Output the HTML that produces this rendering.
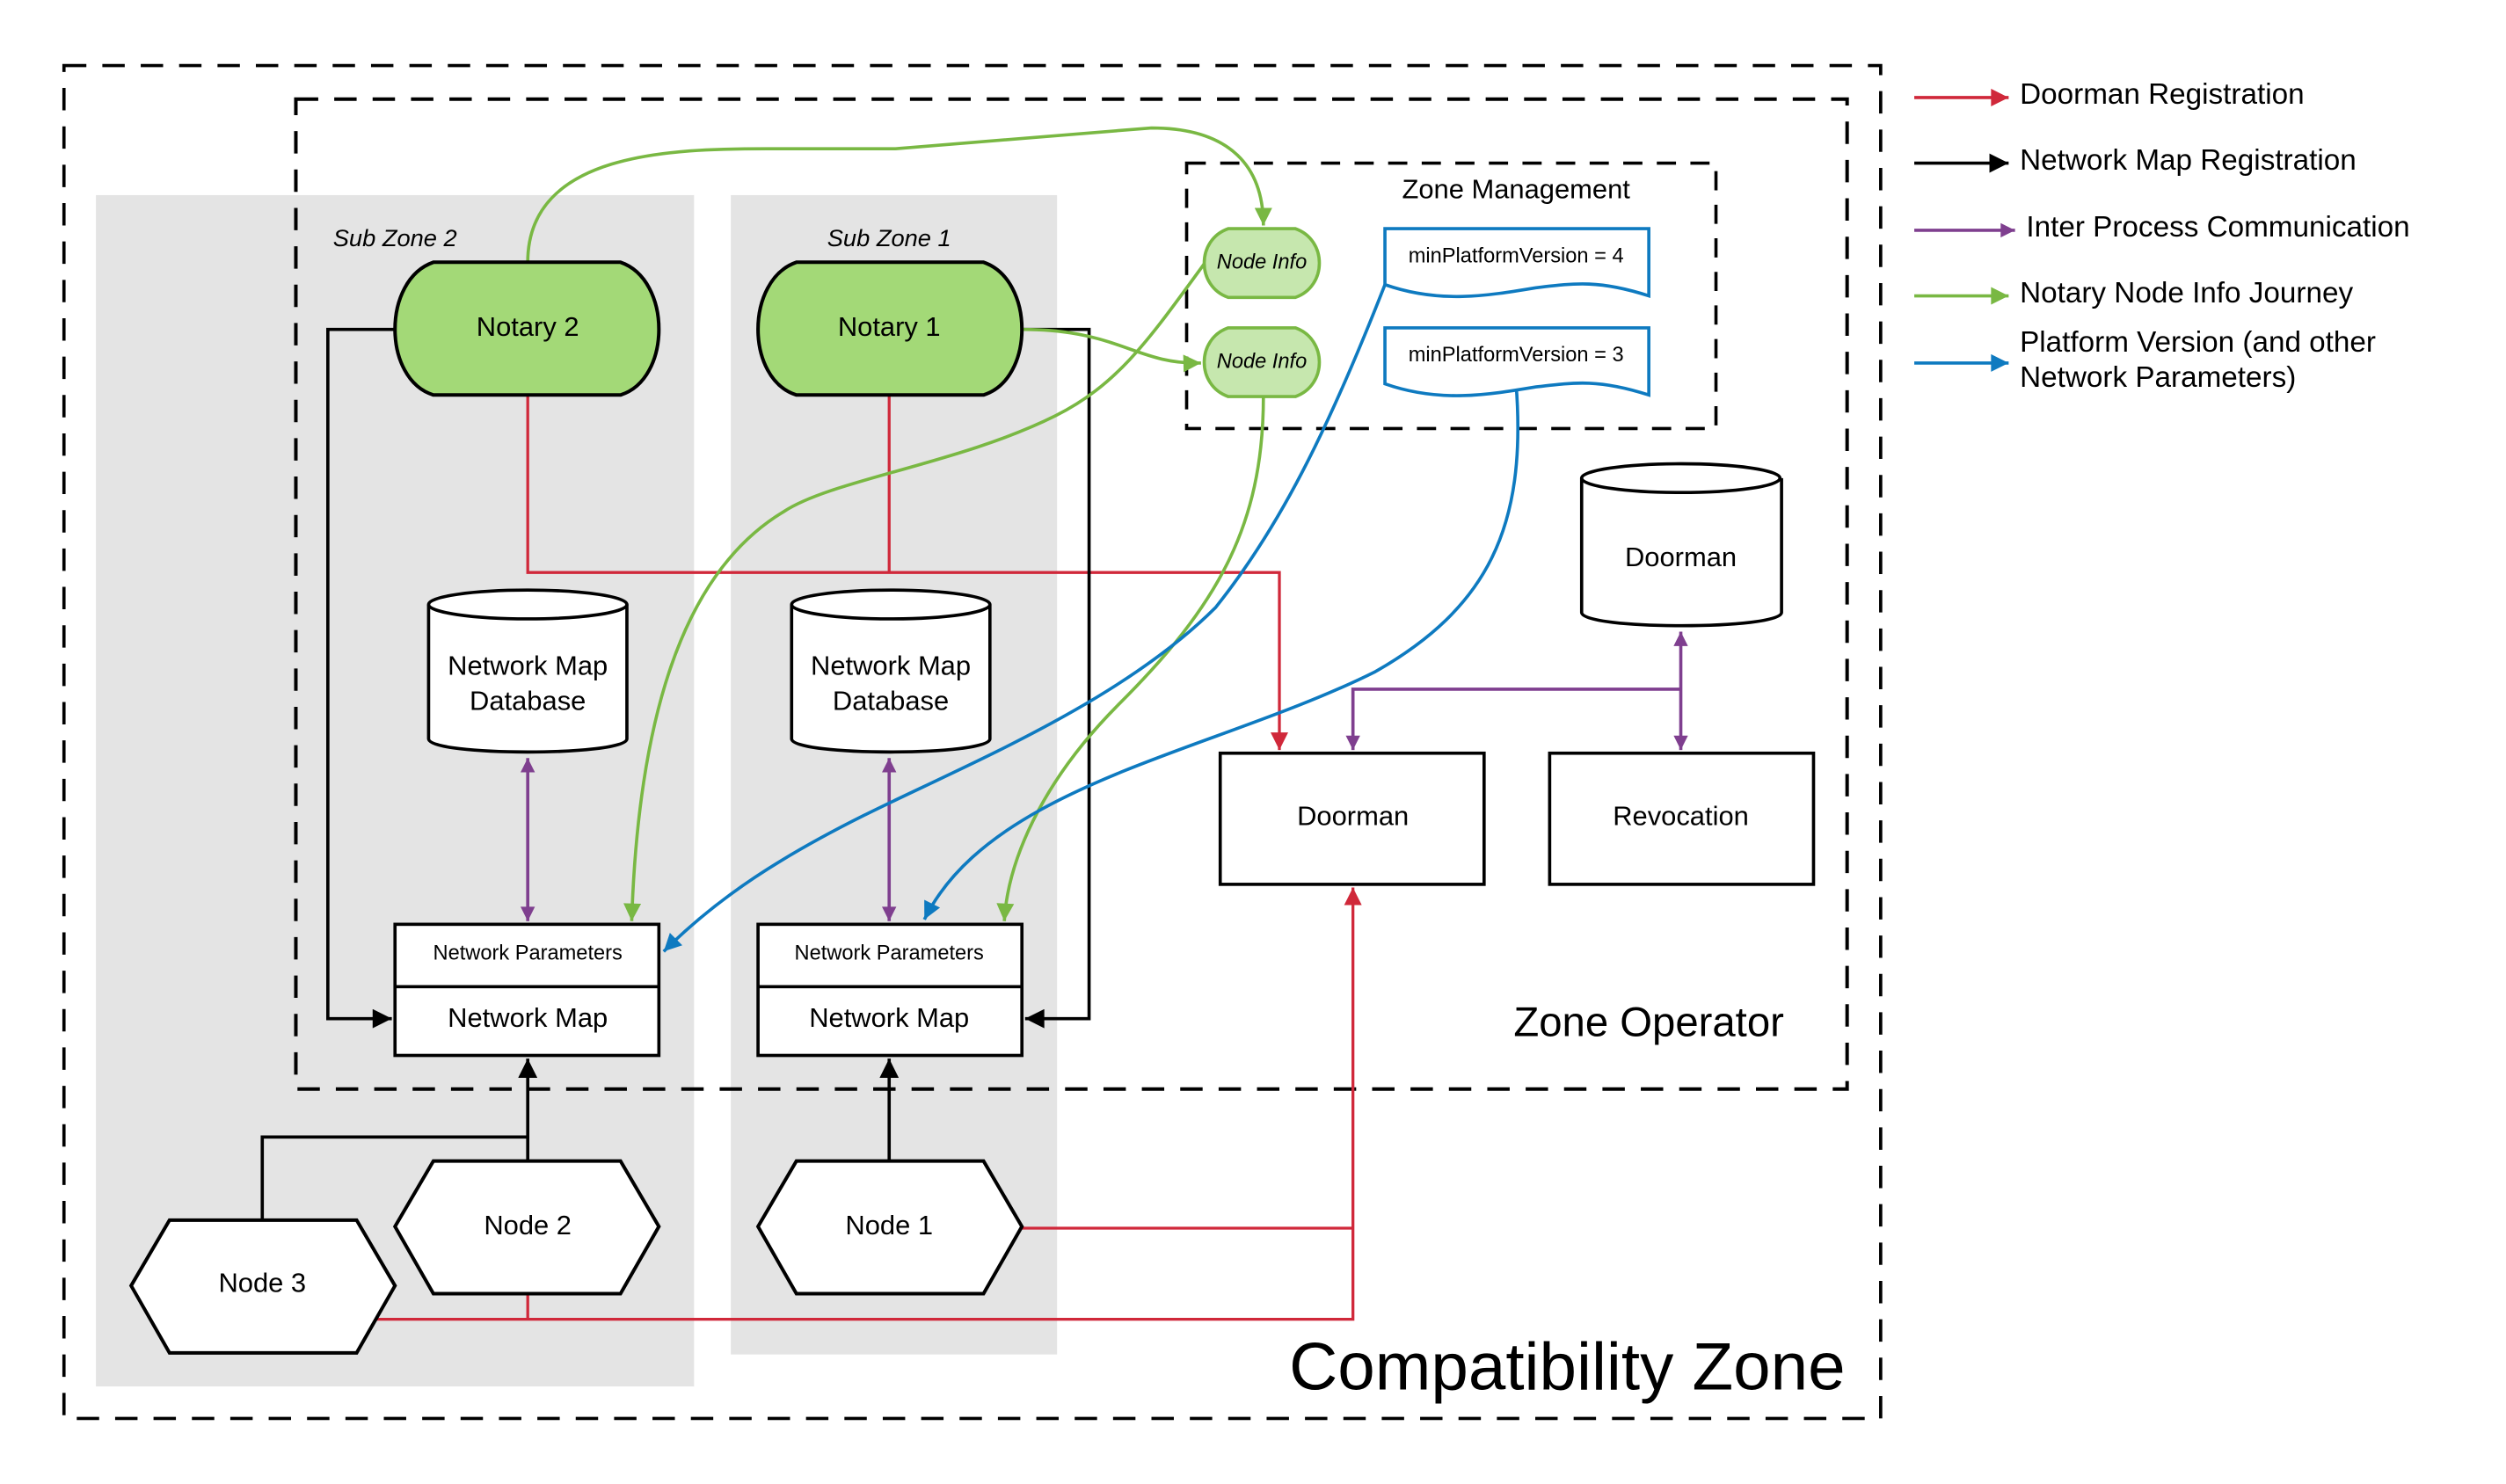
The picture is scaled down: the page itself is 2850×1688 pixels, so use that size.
<!DOCTYPE html>
<html><head><meta charset="utf-8"><style>
html,body{margin:0;padding:0;background:#fff;}
svg{display:block;font-family:"Liberation Sans",sans-serif;}
</style></head><body>
<svg width="2850" height="1688" viewBox="0 0 1567 928" preserveAspectRatio="none" xmlns="http://www.w3.org/2000/svg">
<defs>
<marker id="ar" viewBox="0 0 10 10" refX="10" refY="5" markerWidth="13" markerHeight="11" orient="auto-start-reverse" markerUnits="userSpaceOnUse"><path d="M0,0L10,5L0,10z" fill="#d0283a"/></marker>
<marker id="ak" viewBox="0 0 10 10" refX="10" refY="5" markerWidth="13" markerHeight="12" orient="auto-start-reverse" markerUnits="userSpaceOnUse"><path d="M0,0L10,5L0,10z" fill="#000"/></marker>
<marker id="ap" viewBox="0 0 10 10" refX="10" refY="5" markerWidth="13" markerHeight="9" orient="auto-start-reverse" markerUnits="userSpaceOnUse"><path d="M0,0L10,5L0,10z" fill="#7f3f8f"/></marker>
<marker id="ag" viewBox="0 0 10 10" refX="10" refY="5" markerWidth="14" markerHeight="11" orient="auto-start-reverse" markerUnits="userSpaceOnUse"><path d="M0,0L10,5L0,10z" fill="#79b843"/></marker>
<marker id="ab" viewBox="0 0 10 10" refX="10" refY="5" markerWidth="14" markerHeight="11" orient="auto-start-reverse" markerUnits="userSpaceOnUse"><path d="M0,0L10,5L0,10z" fill="#0e7ac0"/></marker>
</defs>
<rect width="1567" height="928" fill="#fff"/>
<rect x="60" y="122" width="374" height="745" fill="#e4e4e4"/>
<rect x="457" y="122" width="204" height="725" fill="#e4e4e4"/>
<rect x="40" y="41" width="1136" height="846" fill="none" stroke="#000" stroke-width="2" stroke-dasharray="14,10"/>
<rect x="185" y="62" width="970" height="619" fill="none" stroke="#000" stroke-width="2.2" stroke-dasharray="14,10"/>
<rect x="742" y="102" width="331" height="166" fill="none" stroke="#000" stroke-width="2" stroke-dasharray="12,9"/>
<g font-size="15" font-style="italic" text-anchor="middle"><text x="247" y="154">Sub Zone 2</text><text x="556" y="154">Sub Zone 1</text></g>
<text x="948" y="124" font-size="17" text-anchor="middle">Zone Management</text>
<text x="1031" y="648" font-size="26" text-anchor="middle">Zone Operator</text>
<text x="980" y="869" font-size="42" text-anchor="middle">Compatibility Zone</text>

<g fill="none" stroke="#d0283a" stroke-width="1.8">
<path d="M330,247V358H800V469" marker-end="url(#ar)"/>
<path d="M556,247V358"/>
<path d="M639,768H846"/>
<path d="M232,825H846V555" marker-end="url(#ar)"/>
<path d="M330,809V825"/>
</g>
<g fill="none" stroke="#000" stroke-width="2">
<path d="M247,206H205V637H245" marker-end="url(#ak)"/>
<path d="M639,206H681V637H641" marker-end="url(#ak)"/>
<path d="M330,726V662" marker-end="url(#ak)"/>
<path d="M556,726V662" marker-end="url(#ak)"/>
<path d="M164,763V711H330"/>
</g>
<g fill="none" stroke="#7f3f8f" stroke-width="2">
<path d="M330,474V576" marker-start="url(#ap)" marker-end="url(#ap)"/>
<path d="M556,474V576" marker-start="url(#ap)" marker-end="url(#ap)"/>
<path d="M1051,395V469" marker-start="url(#ap)" marker-end="url(#ap)"/>
<path d="M1051,431H846V469" marker-end="url(#ap)"/>
</g>
<g fill="none" stroke="#79b843" stroke-width="2">
<path d="M330,164C330,95 420,93 480,93H560L720,80C770,80 790,105 790,141" marker-end="url(#ag)"/>
<path d="M639,206C700,206 710,228 751,227" marker-end="url(#ag)"/>
<path d="M753,165C720,210 700,240 660,260C600,290 520,300 490,320C440,350 400,420 395,576" marker-end="url(#ag)"/>
<path d="M790,248C790,330 760,380 700,440C650,490 630,540 628,576" marker-end="url(#ag)"/>
</g>
<g fill="none" stroke="#0e7ac0" stroke-width="2">
<path d="M866,178C830,270 800,330 760,380C700,440 600,480 540,510C490,535 450,560 415,595" marker-end="url(#ab)"/>
<path d="M948,240C955,330 930,380 860,420C760,470 620,490 578,575" marker-end="url(#ab)"/>
</g>

<g fill="#a3d977" stroke="#000" stroke-width="2.2">
<path d="M271,164H388C420,175 420,237 388,247H271C239,237 239,175 271,164Z"/>
<path d="M498,164H615C647,175 647,237 615,247H498C466,237 466,175 498,164Z"/>
</g>
<g font-size="17" text-anchor="middle"><text x="330" y="210">Notary 2</text><text x="556" y="210">Notary 1</text></g>
<g fill="#c6e7ae" stroke="#79b843" stroke-width="2">
<path d="M768,143H810C830,150 830,179 810,186H768C748,179 748,150 768,143Z"/>
<path d="M768,205H810C830,212 830,241 810,248H768C748,241 748,212 768,205Z"/>
</g>
<g font-size="13" font-style="italic" text-anchor="middle"><text x="789" y="168">Node Info</text><text x="789" y="230">Node Info</text></g>
<g fill="#fff" stroke="#0e7ac0" stroke-width="2">
<path d="M866,143H1031V185C1000,175 985,177 960,180C930,185 900,190 866,178Z"/>
<path d="M866,205H1031V247C1000,237 985,239 960,242C930,247 900,252 866,240Z"/>
</g>
<g font-size="13" text-anchor="middle"><text x="948" y="164">minPlatformVersion = 4</text><text x="948" y="226">minPlatformVersion = 3</text></g>
<g fill="#fff" stroke="#000" stroke-width="2">
<path d="M268,378V462C268,473 392,473 392,462V378"/><ellipse cx="330" cy="378" rx="62" ry="9"/>
<path d="M495,378V462C495,473 619,473 619,462V378"/><ellipse cx="557" cy="378" rx="62" ry="9"/>
<path d="M989,299V383C989,394 1114,394 1114,383V299"/><ellipse cx="1051" cy="299" rx="62" ry="9"/>
</g>
<g font-size="17" text-anchor="middle">
<text x="330" y="422">Network Map</text><text x="330" y="444">Database</text>
<text x="557" y="422">Network Map</text><text x="557" y="444">Database</text>
<text x="1051" y="354">Doorman</text>
</g>
<g fill="#fff" stroke="#000" stroke-width="2">
<rect x="763" y="471" width="165" height="82"/>
<rect x="969" y="471" width="165" height="82"/>
<rect x="247" y="578" width="165" height="82"/><line x1="247" y1="617" x2="412" y2="617"/>
<rect x="474" y="578" width="165" height="82"/><line x1="474" y1="617" x2="639" y2="617"/>
</g>
<g font-size="17" text-anchor="middle">
<text x="846" y="516">Doorman</text><text x="1051" y="516">Revocation</text>
<text x="330" y="642">Network Map</text><text x="556" y="642">Network Map</text>
</g>
<g font-size="13" text-anchor="middle"><text x="330" y="600">Network Parameters</text><text x="556" y="600">Network Parameters</text></g>
<g fill="#fff" stroke="#000" stroke-width="2.2">
<path d="M106,763H223L247,804L223,846H106L82,804Z"/>
<path d="M271,726H388L412,767L388,809H271L247,767Z"/>
<path d="M498,726H615L639,767L615,809H498L474,767Z"/>
</g>
<g font-size="17" text-anchor="middle"><text x="164" y="808">Node 3</text><text x="330" y="772">Node 2</text><text x="556" y="772">Node 1</text></g>

<g stroke-width="2" fill="none">
<path d="M1197,61H1256" stroke="#d0283a" marker-end="url(#ar)"/>
<path d="M1197,102H1256" stroke="#000" marker-end="url(#ak)"/>
<path d="M1197,144H1260" stroke="#7f3f8f" marker-end="url(#ap)"/>
<path d="M1197,185H1256" stroke="#79b843" marker-end="url(#ag)"/>
<path d="M1197,227H1256" stroke="#0e7ac0" marker-end="url(#ab)"/>
</g>
<g font-size="18.3">
<text x="1263" y="65">Doorman Registration</text>
<text x="1263" y="106">Network Map Registration</text>
<text x="1267" y="148">Inter Process Communication</text>
<text x="1263" y="189">Notary Node Info Journey</text>
<text x="1263" y="220">Platform Version (and other</text>
<text x="1263" y="242">Network Parameters)</text>
</g>
</svg>
</body></html>
